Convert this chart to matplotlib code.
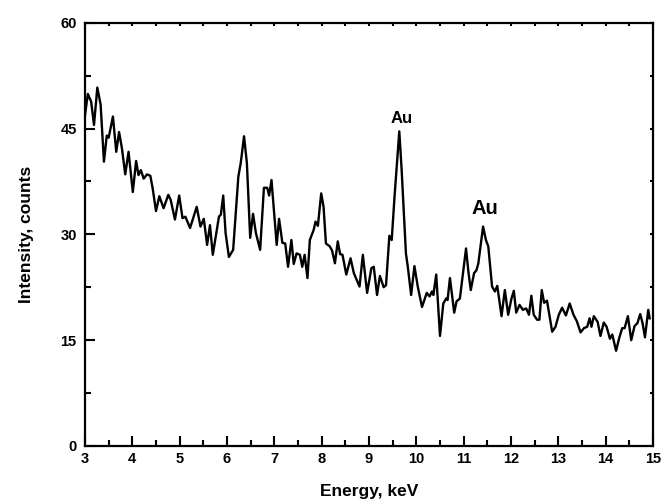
import matplotlib
matplotlib.use("Agg")
import matplotlib.pyplot as plt
from matplotlib.ticker import MultipleLocator

# EDX spectrum
energy = [3.00, 3.06, 3.13, 3.19, 3.26, 3.33, 3.40, 3.46, 3.50, 3.59, 3.66, 3.72, 3.78, 3.85, 3.92,
          4.01, 4.08, 4.13, 4.18, 4.24, 4.31, 4.38, 4.43, 4.50, 4.57, 4.66, 4.76, 4.81, 4.90, 4.99,
          5.06, 5.12, 5.22, 5.36,
          5.44, 5.51, 5.58, 5.64, 5.70, 5.83, 5.87, 5.92, 5.97, 6.04, 6.13, 6.24, 6.29, 6.36, 6.42,
          6.49, 6.55, 6.61, 6.70, 6.78, 6.85, 6.89, 6.94, 6.98, 7.05, 7.10, 7.17, 7.23, 7.29, 7.36,
          7.41, 7.47, 7.54, 7.59, 7.64, 7.70, 7.75,
          7.83, 7.87, 7.92, 7.99, 8.04, 8.09, 8.17, 8.22, 8.28, 8.34, 8.39, 8.44, 8.52, 8.61, 8.68,
          8.80, 8.87, 8.96, 9.05, 9.10, 9.17, 9.23, 9.31, 9.36, 9.43, 9.48, 9.54, 9.64, 9.69, 9.78,
          9.82, 9.89, 9.96, 10.03, 10.12,
          10.22, 10.28, 10.33, 10.36, 10.42, 10.50, 10.57, 10.63, 10.66, 10.71, 10.80, 10.85, 10.92,
          11.05, 11.10, 11.15, 11.22, 11.27, 11.31, 11.41, 11.47, 11.52, 11.60, 11.66, 11.71, 11.80,
          11.87, 11.94, 12.01, 12.06, 12.11, 12.18, 12.25, 12.32, 12.38, 12.43, 12.48,
          12.55, 12.60, 12.65, 12.70, 12.76, 12.87, 12.94, 13.01, 13.08, 13.16, 13.24, 13.32, 13.39,
          13.47, 13.54, 13.61, 13.66, 13.70, 13.75, 13.83, 13.89, 13.96, 14.02, 14.09, 14.14, 14.22,
          14.29, 14.35, 14.40, 14.47, 14.54, 14.61, 14.67, 14.73, 14.78, 14.83, 14.90, 14.93]

counts = [46.9, 49.9, 48.8, 45.5, 50.8, 48.4, 40.3, 44.0, 43.7, 46.7, 41.7, 44.5, 42.2, 38.5, 41.7,
          36.0, 40.4, 38.4, 39.1, 37.9, 38.5, 38.3, 36.5, 33.3, 35.4, 33.7, 35.6, 34.9, 32.1, 35.5,
          32.3, 32.5, 30.9, 33.9,
          31.1, 32.2, 28.5, 31.3, 27.1, 32.5, 32.8, 35.5, 30.2, 26.8, 27.8, 38.2, 40.1, 43.9, 40.1,
          29.5, 32.9, 30.2, 27.8, 36.6, 36.6, 35.5, 37.7, 34.4, 28.5, 32.2, 28.8, 28.7, 25.4, 29.2,
          25.8, 27.3, 27.1, 25.4, 27.1, 23.8, 29.2,
          30.6, 31.8, 31.2, 35.8, 33.9, 28.7, 28.3, 27.7, 25.9, 29.0, 27.2, 27.1, 24.3, 26.6, 24.5,
          22.6, 27.1, 21.7, 25.2, 25.4, 21.4, 24.1, 22.5, 22.8, 29.8, 29.2, 35.4, 44.6, 39.1, 27.3,
          25.4, 21.4, 25.5, 22.6, 19.7,
          21.7, 21.2, 21.9, 21.4, 24.3, 15.6, 20.2, 20.9, 20.7, 23.8, 18.9, 20.5, 20.9,
          28.0, 24.7, 22.1, 24.5, 24.9, 25.9, 31.1, 29.2, 28.3, 22.6, 21.9, 22.7, 18.4,
          22.1, 18.6, 20.9, 22.0, 18.9, 20.0, 19.3, 19.5, 18.6, 21.3, 18.6,
          17.9, 17.9, 22.1, 20.3, 20.6, 16.2, 16.9, 18.6, 19.6, 18.5, 20.2, 18.6, 17.7,
          16.1, 16.7, 16.9, 18.1, 16.9, 18.4, 17.6, 15.6, 17.5, 16.9, 15.2, 15.8, 13.5,
          15.4, 16.7, 16.7, 18.4, 15.0, 17.0, 17.4, 18.7, 17.4, 15.4, 19.3, 18.1]

peak_labels = ["Au", "Au"]
peak_pos = [(9.70, 45.4), (11.45, 32.3)]
peak_size = [12, 14.5]

plt.rcParams['font.family'] = ['Liberation Sans', 'DejaVu Sans']
plt.rcParams['font.weight'] = 'bold'

fig = plt.figure(figsize=(6.62, 5.04), dpi=100)
ax = fig.add_axes([0.1284, 0.1151, 0.858, 0.8399])

ax.plot(energy, counts, color='black', lw=1.7, solid_joinstyle='round')

for lab, (px, py), fs in zip(peak_labels, peak_pos, peak_size):
    ax.text(px, py, lab, ha='center', va='bottom', fontsize=fs, fontweight='bold')

ax.set_xlim(3, 15)
ax.set_ylim(0, 60)
ax.xaxis.set_major_locator(MultipleLocator(1))
ax.xaxis.set_minor_locator(MultipleLocator(0.5))
ax.yaxis.set_major_locator(MultipleLocator(15))
ax.yaxis.set_minor_locator(MultipleLocator(7.5))

for s in ax.spines.values():
    s.set_linewidth(1.6)

ax.tick_params(axis='x', which='major', direction='in', length=7, width=1.5, pad=4, labelsize=10.5)
ax.tick_params(axis='x', which='minor', direction='in', length=4.5, width=1.5)
ax.tick_params(axis='y', which='major', direction='in', length=7, width=1.5, pad=6, labelsize=10.5)
ax.tick_params(axis='y', which='minor', direction='in', length=4.5, width=1.5)
ax.tick_params(which='both', top=True, right=True)
# the top and right ticks are tiny in the original
for t in ax.xaxis.get_major_ticks() + ax.xaxis.get_minor_ticks():
    t.tick2line.set_markersize(2)
for t in ax.yaxis.get_major_ticks() + ax.yaxis.get_minor_ticks():
    t.tick2line.set_markersize(2)

ax.set_xlabel("Energy, keV", fontsize=12.5, fontweight='bold', labelpad=13)
ax.set_ylabel("Intensity, counts", fontsize=12.5, fontweight='bold', labelpad=19)

fig.savefig("out.png", dpi=100)
